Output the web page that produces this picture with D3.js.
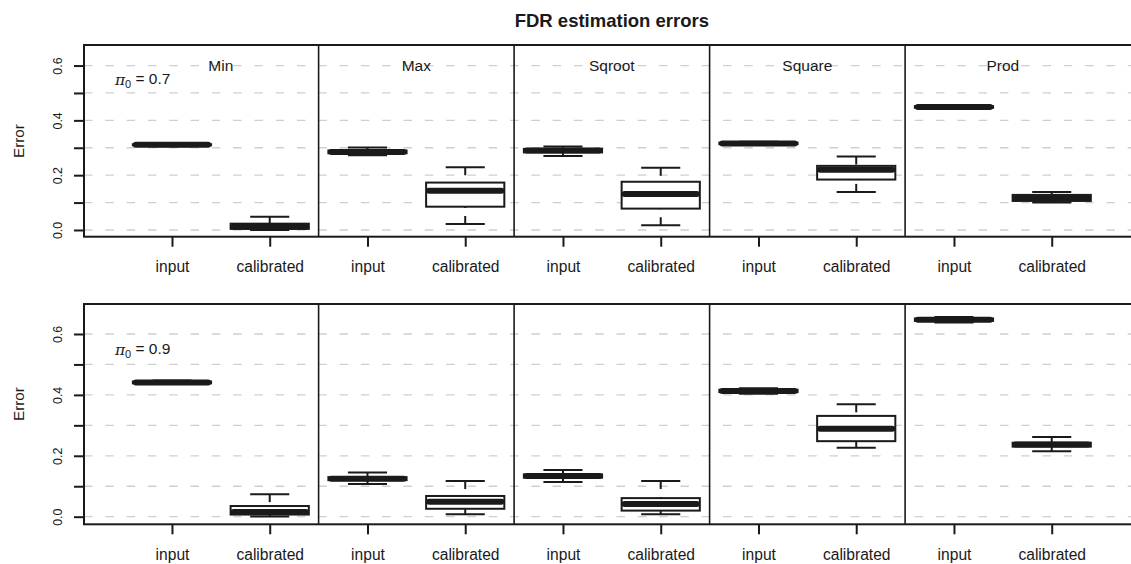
<!DOCTYPE html>
<html>
<head>
<meta charset="utf-8">
<script src="https://cdn.jsdelivr.net/npm/d3@7"></script>
<style>
  html, body { margin: 0; padding: 0; background: #fff; }
  svg { display: block; font-family: "Liberation Sans", Arial, Helvetica, sans-serif; }
</style>
</head>
<body>
<svg id="chart" width="1131" height="564"></svg>
<script>
// Combination rules (one panel pair per rule) and the two estimates shown for each
const groups = ["Min", "Max", "Sqroot", "Square", "Prod"];
const methods = ["input", "calibrated"];
const pi0Values = [0.7, 0.9];

// Five-number summaries per box: [lower whisker, Q1, median, Q3, upper whisker]
// Order: Min input, Min calibrated, Max input, Max calibrated, ... Prod calibrated
const statsPi07 = [
  [0.306, 0.309, 0.311, 0.313, 0.316],
  [0.000, 0.004, 0.012, 0.023, 0.048],
  [0.273, 0.280, 0.285, 0.290, 0.301],
  [0.022, 0.085, 0.143, 0.173, 0.229],
  [0.270, 0.283, 0.290, 0.296, 0.305],
  [0.017, 0.078, 0.131, 0.176, 0.227],
  [0.310, 0.313, 0.316, 0.319, 0.322],
  [0.139, 0.184, 0.220, 0.234, 0.268],
  [0.443, 0.446, 0.449, 0.452, 0.455],
  [0.100, 0.106, 0.116, 0.128, 0.139]
];
const statsPi09 = [
  [0.436, 0.438, 0.441, 0.444, 0.447],
  [0.001, 0.007, 0.015, 0.035, 0.074],
  [0.107, 0.120, 0.125, 0.130, 0.145],
  [0.008, 0.026, 0.049, 0.068, 0.117],
  [0.114, 0.128, 0.134, 0.139, 0.153],
  [0.008, 0.020, 0.042, 0.061, 0.117],
  [0.404, 0.409, 0.413, 0.417, 0.422],
  [0.226, 0.248, 0.289, 0.331, 0.369],
  [0.638, 0.643, 0.647, 0.651, 0.656],
  [0.215, 0.230, 0.237, 0.243, 0.262]
];

// Axis settings
const yTicks = [0, 0.1, 0.2, 0.3, 0.4, 0.5, 0.6];
const yTickLabels = ["0.0", "", "0.2", "", "0.4", "", "0.6"];
const yLimitsPi07 = [-0.0245, 0.675];
const yLimitsPi09 = [-0.025, 0.6985];

const svg = d3.select("#chart");
const ink = "#1a1a1a";
const medianWidth = 6;

// Box positions 1..10 share one x scale across both panels
const x = d3.scaleLinear().domain([0.1, 10.9]).range([84, 1139.7]);
const boxHalf = x(1.4) - x(1);      // half box width (0.8 total)
const stapleHalf = boxHalf / 2;

const panels = [
  { stats: statsPi07, pi0: pi0Values[0], top: 45, bottom: 236.7, ylim: yLimitsPi07, labelY: 141, showNames: true },
  { stats: statsPi09, pi0: pi0Values[1], top: 304, bottom: 524.3, ylim: yLimitsPi09, labelY: 404, showNames: false }
];

svg.append("text")
  .attr("x", x(5.5)).attr("y", 27)
  .attr("text-anchor", "middle")
  .attr("font-size", 18.5).attr("font-weight", "bold")
  .attr("fill", ink)
  .text("FDR estimation errors");

panels.forEach(p => {
  const y = d3.scaleLinear().domain(p.ylim).range([p.bottom, p.top]);
  const g = svg.append("g");
  const [x0, x1] = x.range();

  // dashed horizontal reference lines
  g.selectAll("line.grid").data(yTicks).enter().append("line")
    .attr("x1", x0).attr("x2", x1)
    .attr("y1", d => y(d)).attr("y2", d => y(d))
    .attr("stroke", "#cfcfcf").attr("stroke-width", 1.3)
    .attr("stroke-dasharray", "8.5,12.8");

  // separators between rules
  g.selectAll("line.sep").data([2.5, 4.5, 6.5, 8.5]).enter().append("line")
    .attr("x1", d => x(d)).attr("x2", d => x(d))
    .attr("y1", p.top).attr("y2", p.bottom)
    .attr("stroke", ink).attr("stroke-width", 1.6);

  // boxes
  const boxes = g.selectAll("g.box").data(p.stats).enter().append("g");
  boxes.each(function(s, i) {
    const b = d3.select(this);
    const cx = x(i + 1);
    // whiskers (dashed, drawn from the whisker end toward the box)
    b.append("line").attr("x1", cx).attr("x2", cx)
      .attr("y1", y(s[4])).attr("y2", y(s[3]))
      .attr("stroke", ink).attr("stroke-width", 2).attr("stroke-dasharray", "8,8");
    b.append("line").attr("x1", cx).attr("x2", cx)
      .attr("y1", y(s[0])).attr("y2", y(s[1]))
      .attr("stroke", ink).attr("stroke-width", 2).attr("stroke-dasharray", "8,8");
    // staples
    [s[0], s[4]].forEach(v => {
      b.append("line").attr("x1", cx - stapleHalf).attr("x2", cx + stapleHalf)
        .attr("y1", y(v)).attr("y2", y(v))
        .attr("stroke", ink).attr("stroke-width", 2);
    });
    // box
    b.append("rect")
      .attr("x", cx - boxHalf).attr("width", 2 * boxHalf)
      .attr("y", y(s[3])).attr("height", Math.max(0.5, y(s[1]) - y(s[3])))
      .attr("fill", "#fff").attr("stroke", ink).attr("stroke-width", 2);
    // median (rounded ends kept inside the box width)
    b.append("line")
      .attr("x1", cx - boxHalf + medianWidth / 2).attr("x2", cx + boxHalf - medianWidth / 2)
      .attr("y1", y(s[2])).attr("y2", y(s[2]))
      .attr("stroke", ink).attr("stroke-width", medianWidth).attr("stroke-linecap", "round");
  });

  // plot frame
  g.append("rect")
    .attr("x", x0).attr("y", p.top)
    .attr("width", x1 - x0).attr("height", p.bottom - p.top)
    .attr("fill", "none").attr("stroke", ink).attr("stroke-width", 2);

  // y axis
  const yAxis = d3.axisLeft(y).tickValues(yTicks).tickSize(10).tickFormat((d, i) => yTickLabels[i]);
  const ya = g.append("g").attr("transform", `translate(${x0},0)`).call(yAxis);
  ya.select(".domain").remove();
  ya.selectAll(".tick line").attr("stroke", ink).attr("stroke-width", 2);
  ya.selectAll(".tick text")
    .attr("transform", "rotate(-90)")
    .attr("x", 0).attr("y", -22).attr("dy", 0)
    .attr("text-anchor", "middle")
    .attr("font-size", 12.4).attr("fill", ink)
    .attr("font-family", "'Liberation Sans', Arial, sans-serif");

  // x axis: method under every box
  const tickPos = d3.range(1, 11);
  const xAxis = d3.axisBottom(x).tickValues(tickPos).tickSize(10).tickFormat((d) => methods[(d - 1) % 2]);
  const xa = g.append("g").attr("transform", `translate(0,${p.bottom})`).call(xAxis);
  xa.select(".domain").remove();
  xa.selectAll(".tick line").attr("stroke", ink).attr("stroke-width", 2);
  xa.selectAll(".tick text")
    .attr("y", 35.5).attr("dy", 0)
    .attr("font-size", 15.6).attr("fill", ink)
    .attr("font-family", "'Liberation Sans', Arial, sans-serif");

  // y label
  g.append("text")
    .attr("transform", `translate(23.5,${p.labelY}) rotate(-90)`)
    .attr("text-anchor", "middle")
    .attr("font-size", 15.2).attr("fill", ink)
    .text("Error");

  // pi0 annotation
  const t = g.append("text")
    .attr("x", x(0.7)).attr("y", y(0.55))
    .attr("dy", "0.35em")
    .attr("text-anchor", "middle")
    .attr("font-size", 15.5).attr("fill", ink);
  t.append("tspan").attr("font-family", "'DejaVu Serif', 'Liberation Serif', serif").attr("font-style", "italic").text("π");
  t.append("tspan").attr("font-size", 11).attr("dy", "0.3em").text("0");
  t.append("tspan").attr("dy", "-0.25em").text(" = " + p.pi0);

  // rule names
  if (p.showNames) {
    g.selectAll("text.name").data(groups).enter().append("text")
      .attr("x", (d, i) => x(2 * i + 1.5)).attr("y", y(0.6))
      .attr("dy", "0.36em").attr("text-anchor", "middle")
      .attr("font-size", 15.5).attr("fill", ink)
      .text(d => d);
  }
});
</script>
</body>
</html>
